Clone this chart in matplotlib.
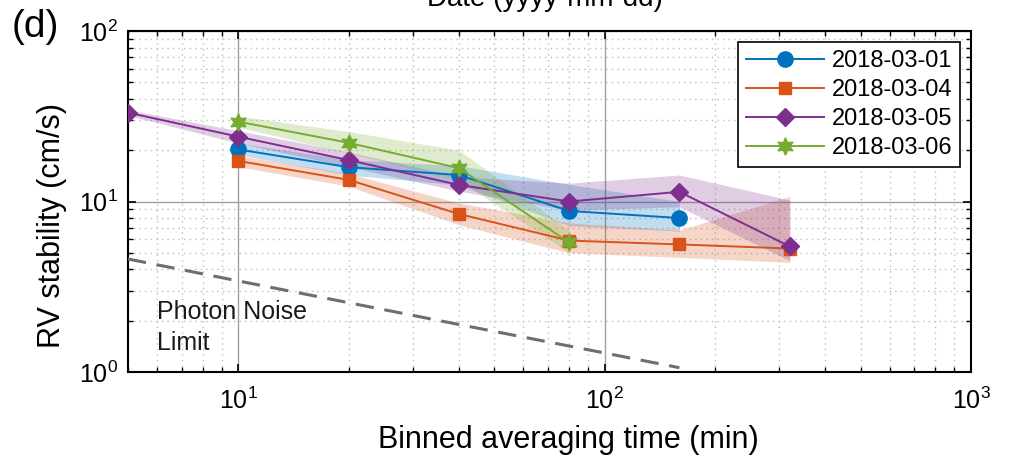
import matplotlib.pyplot as plt
from matplotlib.ticker import LogLocator, NullFormatter

plt.rcParams['font.family'] = ['Liberation Sans', 'DejaVu Sans']
plt.rcParams['mathtext.fontset'] = 'custom'
plt.rcParams['mathtext.rm'] = 'Liberation Sans'

# ---------------- data ----------------
dates = ['2018-03-01', '2018-03-04', '2018-03-05', '2018-03-06']
colors = ['#0072BD', '#D95319', '#7E2F8E', '#77AC30']

t_0301 = [10, 20, 40, 80, 160]
rv_0301 = [20.2, 15.9, 14.3, 8.8, 8.0]
lo_0301 = [18.8, 14.3, 12.5, 7.2, 6.7]
hi_0301 = [22.0, 17.6, 16.2, 12.6, 10.0]

t_0304 = [10, 20, 40, 80, 160, 320]
rv_0304 = [17.3, 13.4, 8.45, 5.9, 5.6, 5.3]
lo_0304 = [16.0, 12.3, 7.3, 5.0, 4.7, 4.4]
hi_0304 = [18.6, 14.6, 9.8, 7.5, 6.8, 10.7]

t_0305 = [5, 10, 20, 40, 80, 160, 320]
rv_0305 = [33.2, 24.0, 17.5, 12.5, 10.0, 11.4, 5.45]
lo_0305 = [32.0, 22.0, 16.0, 11.5, 8.9, 9.3, 4.5]
hi_0305 = [34.5, 26.0, 19.5, 14.0, 12.8, 14.3, 10.2]

t_0306 = [10, 20, 40, 80]
rv_0306 = [29.4, 22.1, 15.7, 5.75]
lo_0306 = [27.3, 19.2, 13.4, 5.0]
hi_0306 = [31.7, 25.7, 20.0, 6.8]

t_photon = [5, 10, 20, 40, 80, 160]
rv_photon = [4.6, 3.42, 2.55, 1.9, 1.42, 1.06]

series = [
    (t_0301, rv_0301, lo_0301, hi_0301, 'o', 11),
    (t_0304, rv_0304, lo_0304, hi_0304, 's', 8.5),
    (t_0305, rv_0305, lo_0305, hi_0305, 'D', 9),
    (t_0306, rv_0306, lo_0306, hi_0306, (6, 1, 0), 12.5),
]

fig = plt.figure(figsize=(10.09, 4.58), dpi=100)
ax = fig.add_axes([128 / 1009, 86 / 458, 843 / 1009, 341 / 458])
ax.set_xscale('log')
ax.set_yscale('log')
ax.set_xlim(5, 1000)
ax.set_ylim(1, 100)

# grid (matlab style)
ax.grid(True, which='major', color='#a0a0a0', linewidth=1.0, linestyle='-')
ax.grid(True, which='minor', color='#bdbdbd', linewidth=1.0, linestyle=(0, (1, 3)))
ax.set_axisbelow(True)

# shaded bands first
for (t, rv, lo, hi, mk, ms), c in zip(series, colors):
    ax.fill_between(t, lo, hi, color=c, alpha=0.24, linewidth=0, zorder=2)

for (t, rv, lo, hi, mk, ms), c, lab in zip(series, colors, dates):
    ax.plot(t, rv, color=c, marker=mk, markersize=ms, linewidth=1.4,
            markeredgecolor=c, markerfacecolor=c, label=lab, zorder=3)

ax.plot(t_photon, rv_photon, color='#6e6e6e', linewidth=2.2,
        linestyle=(0, (6, 3.5)), zorder=3)

ax.text(0.034, 0.176, 'Photon Noise', transform=ax.transAxes,
        fontsize=18, color='#1a1a1a', va='center', ha='left')
ax.text(0.034, 0.085, 'Limit', transform=ax.transAxes,
        fontsize=18, color='#1a1a1a', va='center', ha='left')

# ticks
ax.xaxis.set_major_locator(LogLocator(base=10, numticks=10))
ax.yaxis.set_major_locator(LogLocator(base=10, numticks=10))
ax.xaxis.set_minor_locator(LogLocator(base=10, subs=range(2, 10), numticks=20))
ax.yaxis.set_minor_locator(LogLocator(base=10, subs=range(2, 10), numticks=20))
ax.xaxis.set_minor_formatter(NullFormatter())
ax.yaxis.set_minor_formatter(NullFormatter())
ax.tick_params(which='both', direction='in', top=True, right=True, color='black')
ax.tick_params(which='major', length=6, width=1.2, labelsize=18)
ax.tick_params(which='minor', length=3.5, width=1.0)
ax.tick_params(axis='x', which='major', pad=11)
ax.tick_params(axis='y', which='major', pad=7)
for sp in ax.spines.values():
    sp.set_linewidth(1.5)
    sp.set_color('black')

ax.set_xlabel('Binned averaging time (min)', fontsize=22)
ax.set_ylabel('RV stability (cm/s)', fontsize=22)
ax.xaxis.set_label_coords(0.522, -0.155)
ax.yaxis.set_label_coords(-0.072, 0.43)

leg = ax.legend(loc='upper right', fontsize=17, frameon=True, fancybox=False,
                edgecolor='black', framealpha=1, handlelength=3.3,
                handletextpad=0.3, labelspacing=0.3, borderpad=0.35,
                borderaxespad=0.45)
leg.get_frame().set_linewidth(1.2)

fig.text(12 / 1009, 1 - 27 / 458, '(d)', fontsize=28, va='center', ha='left')
fig.text(427 / 1009, 1 - 6 / 458, 'Date (yyyy-mm-dd)', fontsize=20,
         va='baseline', ha='left')

fig.savefig('out.png', dpi=100)
